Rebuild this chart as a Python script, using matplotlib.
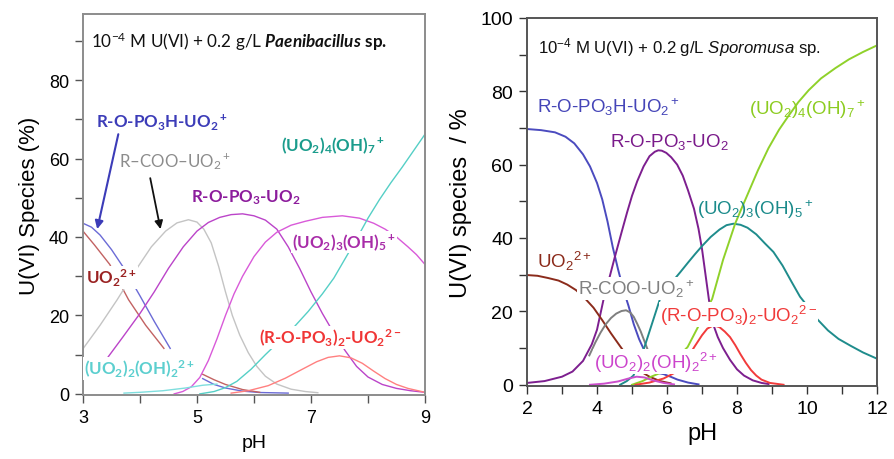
import numpy as np
import matplotlib
matplotlib.use("Agg")
import matplotlib.pyplot as plt

plt.rcParams['mathtext.fontset'] = 'custom'
plt.rcParams['mathtext.rm'] = 'Liberation Sans'
plt.rcParams['mathtext.it'] = 'Liberation Sans:italic'
plt.rcParams['mathtext.bf'] = 'Lato:bold'
plt.rcParams['mathtext.bfit'] = 'Lato:bold:italic'
plt.rcParams['font.family'] = ['Liberation Sans', 'DejaVu Sans']

nan = np.nan

# ---------------- Left panel (Paenibacillus) ----------------
L_blue_ph = [3.0, 3.15, 3.3, 3.5, 3.73, 4.0, 4.25, 4.53, nan, 5.1, 5.3, 5.5, 5.8, 6.1, 6.6]
L_blue_v = [43.5, 42.5, 40.5, 36.8, 31.8, 25.0, 18.5, 11.6, nan, 3.9, 2.4, 1.5, 0.7, 0.35, 0.2]
L_brown_ph = [3.0, 3.2, 3.47, 3.8, 4.1, 4.42, nan, 5.1, 5.3, 5.5, 5.8, 6.1]
L_brown_v = [41.5, 38.0, 33.0, 24.0, 17.5, 11.6, nan, 5.0, 3.6, 2.4, 1.1, 0.4]
L_gray_ph = [3.0, 3.3, 3.6, 3.9, 4.2, 4.45, 4.65, 4.85, 5.0, 5.12, 5.25, 5.38, 5.5, 5.62, 5.75, 5.9, 6.05,
             6.2, 6.4, 6.65, 6.9, 7.12]
L_gray_v = [11.5, 17.5, 24.0, 31.0, 37.5, 41.5, 43.6, 44.4, 43.8, 42.0, 38.5, 32.5, 26.0, 20.0, 15.0, 10.5, 7.0,
            4.5, 2.5, 1.2, 0.6, 0.3]
L_pur_ph = [3.42, 3.7, 4.0, 4.25, 4.5, 4.76, 5.0, 5.2, 5.4, 5.6, 5.8, 6.0, 6.2, 6.4, 6.6, 6.8, 7.0, 7.2, 7.4,
            7.6, 7.8, 8.0, 8.25, 8.5, 8.75, 9.0]
L_pur_v = [9.0, 14.5, 20.5, 26.0, 32.0, 37.5, 41.5, 43.7, 45.0, 45.7, 45.9, 45.4, 44.3, 42.0, 37.5, 32.0, 26.0,
           20.5, 15.5, 11.0, 7.0, 4.3, 2.4, 1.4, 0.8, 0.4]
L_mag_ph = [4.6, 4.75, 4.9, 5.05, 5.2, 5.35, 5.5, 5.65, 5.8, 6.0, 6.2, 6.4, 6.65, 6.9, 7.2, 7.55, 7.85, 8.1,
            8.3, 8.5, 8.7, 8.85, 9.0]
L_mag_v = [0.0, 0.6, 1.8, 4.2, 8.5, 14.0, 20.0, 25.5, 30.0, 35.0, 38.7, 41.2, 43.0, 44.0, 45.0, 45.4, 44.8, 43.5,
           42.0, 40.0, 37.5, 35.5, 33.0]
L_teal_ph = [5.05, 5.3, 5.5, 5.7, 5.95, 6.2, 6.45, 6.7, 6.95, 7.2, 7.4, 7.6, 7.8, 8.0, 8.2, 8.4, 8.6, 8.8, 9.0]
L_teal_v = [0.0, 0.6, 1.6, 3.2, 6.3, 10.0, 13.5, 17.0, 21.0, 25.5, 29.5, 34.5, 39.5, 44.8, 49.5, 53.8, 57.8,
            62.0, 66.2]
L_cyan_ph = [3.72, 4.0, 4.4, 4.8, 5.1, 5.35]
L_cyan_v = [0.2, 0.4, 0.8, 1.5, 2.2, 2.5]
L_red_ph = [5.6, 5.9, 6.25, 6.55, 6.85, 7.1, 7.3, 7.5, 7.7, 7.9, 8.1, 8.3, 8.5, 8.7, 9.0]
L_red_v = [0.2, 0.8, 2.1, 4.0, 6.3, 8.2, 9.3, 9.7, 9.2, 7.8, 5.8, 3.9, 2.4, 1.4, 0.4]

# ---------------- Right panel (Sporomusa) ----------------
R_blue_ph = [2.0, 2.4, 2.8, 3.1, 3.35, 3.6, 3.8, 4.0, 4.15, 4.3, 4.45, 4.6, 4.75, 4.9, 5.05, 5.2, 5.33, 5.45,
             5.6, 5.75, 5.9, 6.1, 6.3, 6.6, 6.9]
R_blue_v = [69.7, 69.4, 68.8, 67.6, 65.8, 62.8, 59.5, 55.0, 50.5, 44.5, 37.5, 31.5, 26.0, 21.5, 16.5, 12.5, 9.8,
            6.5, 4.0, 3.2, 2.9, 2.2, 1.4, 0.6, 0.1]
R_pur_ph = [2.0, 2.5, 3.0, 3.3, 3.6, 3.85, 4.0, 4.19, 4.35, 4.5, 4.7, 4.86, 5.0, 5.15, 5.33, 5.5, 5.65, 5.75,
            5.85, 5.98, 6.12, 6.29, 6.45, 6.6, 6.77, 6.9, 7.0, 7.1, 7.2, 7.33, 7.45, 7.6, 7.8, 8.0, 8.2, 8.45,
            8.7, 8.9]
R_pur_v = [0.5, 1.0, 2.2, 3.6, 6.5, 11.0, 15.0, 23.4, 29.0, 34.5, 41.5, 47.0, 51.5, 55.5, 59.5, 62.3, 63.5, 63.9,
           63.8, 63.2, 62.0, 60.0, 57.0, 53.0, 48.0, 42.5, 37.0, 30.0, 23.0, 16.2, 13.0, 10.0, 6.8, 4.2, 2.5,
           1.2, 0.5, 0.2]
R_brown_ph = [2.0, 2.3, 2.6, 2.9, 3.15, 3.4, 3.65, 3.9, 4.15, 4.4, 4.66, 4.85, 5.05, 5.25, 5.5, 5.8, 6.1]
R_brown_v = [29.9, 29.7, 29.1, 28.4, 27.3, 25.8, 23.6, 21.0, 17.6, 14.0, 10.5, 8.0, 5.5, 3.6, 2.2, 1.0, 0.4]
R_gray_ph = [3.78, 3.95, 4.1, 4.25, 4.4, 4.55, 4.7, 4.83, 4.95, 5.05, 5.15, 5.25, 5.35, 5.45, 5.55]
R_gray_v = [8.0, 11.5, 14.2, 16.5, 18.2, 19.4, 20.1, 20.3, 19.7, 18.5, 16.6, 14.5, 12.0, 9.5, 7.5]
R_teal_ph = [4.66, 4.85, 5.04, 5.2, 5.37, 5.6, 5.8, 6.1, 6.38, 6.6, 6.8, 7.0, 7.25, 7.5, 7.7, 7.9, 8.1, 8.3,
             8.55, 8.8, 9.04, 9.3, 9.55, 9.8, 10.05, 10.3, 10.6, 10.9, 11.25, 11.6, 12.0]
R_teal_v = [0.0, 1.0, 2.5, 6.0, 10.7, 17.5, 23.4, 27.5, 30.7, 33.3, 35.6, 37.8, 40.3, 42.3, 43.5, 43.9, 43.6,
            42.8, 41.0, 38.5, 36.2, 32.5, 28.2, 24.0, 21.0, 17.8, 14.8, 12.5, 10.6, 8.8, 7.1]
R_green_ph = [5.0, 5.3, 5.55, 5.8, 6.2, 6.59, 6.91, 7.1, 7.29, 7.6, 7.95, 8.15, 8.33, 8.6, 8.9, 9.2, 9.48, 9.75,
              10.05, 10.4, 10.81, 11.2, 11.6, 12.0]
R_green_v = [0.0, 1.0, 2.2, 3.2, 6.5, 10.3, 16.2, 20.0, 23.4, 34.0, 44.0, 48.5, 52.5, 58.5, 64.5, 69.5, 73.4,
             77.0, 80.3, 83.5, 86.3, 88.7, 90.7, 92.5]
R_red_ph = [5.1, 5.5, 5.9, 6.27, 6.5, 6.78, 7.0, 7.15, 7.33, 7.5, 7.65, 7.8, 7.95, 8.1, 8.25, 8.4, 8.55, 8.7,
            8.94, 9.33]
R_red_v = [0.0, 0.6, 1.7, 3.5, 6.0, 10.3, 13.5, 15.3, 16.2, 15.7, 14.5, 13.0, 10.8, 8.3, 6.0, 4.0, 2.5, 1.4,
           0.5, 0.0]
R_mag_ph = [3.8, 4.2, 4.6, 4.9, 5.13, 5.35, 5.6, 5.9, 6.2]
R_mag_v = [0.0, 0.3, 0.9, 1.7, 2.2, 2.0, 1.2, 0.5, 0.1]

L_xticks = [3, 4, 5, 6, 7, 8, 9]
L_xticklabels = ['3', '', '5', '', '7', '', '9']
L_yticks = [0, 10, 20, 30, 40, 50, 60, 70, 80, 90]
L_yticklabels = ['0', '', '20', '', '40', '', '60', '', '80', '']
R_xticks = list(range(2, 13))
R_xticklabels = ['2', '', '4', '', '6', '', '8', '', '10', '', '12']
R_yticks = list(range(0, 101, 10))
R_yticklabels = ['0', '', '20', '', '40', '', '60', '', '80', '', '100']

fig = plt.figure(figsize=(8.94, 4.6), dpi=100)
axL = fig.add_axes([0.0928, 0.139, 0.3826, 0.828])
axR = fig.add_axes([0.5895, 0.159, 0.3915, 0.800])

# ---- left ----
lwL = 1.0
axL.plot(L_blue_ph, L_blue_v, color='#6b6bd6', lw=lwL)
axL.plot(L_brown_ph, L_brown_v, color='#c26262', lw=lwL)
axL.plot(L_gray_ph, L_gray_v, color='#c4c4c4', lw=lwL)
axL.plot(L_pur_ph, L_pur_v, color='#bb44c9', lw=lwL)
axL.plot(L_mag_ph, L_mag_v, color='#d95ad9', lw=lwL)
axL.plot(L_teal_ph, L_teal_v, color='#55cfc6', lw=lwL)
axL.plot(L_cyan_ph, L_cyan_v, color='#7fdede', lw=lwL)
axL.plot(L_red_ph, L_red_v, color='#ff8080', lw=lwL)

axL.set_xlim(3, 9)
axL.set_ylim(-0.3, 96.8)
axL.set_xticks(L_xticks)
axL.set_xticklabels(L_xticklabels)
axL.set_yticks(L_yticks)
axL.set_yticklabels(L_yticklabels)
axL.tick_params(direction='out', length=6, width=1.0, color='#555555', labelsize=13, pad=4)
for s in axL.spines.values():
    s.set_color('#8c8c8c')
    s.set_linewidth(1.4)
axL.set_xlabel('pH', fontsize=14, labelpad=6)
axL.set_ylabel('U(VI) Species (%)', fontsize=16, labelpad=6)

wb = dict(facecolor='white', edgecolor='none', pad=0.6)
fL = dict(family='Lato', weight='bold', fontsize=12.2, ha='left', va='center')
axL.text(3.14, 90, r"10$\mathregular{^{-4}}$ M U(VI) + 0.2 g/L $\mathbfit{Paenibacillus}$ $\mathbf{sp.}$",
         family='Lato', fontsize=12.3, ha='left', va='center', color='#111111')
axL.text(3.23, 69.6, r"R-O-PO$\mathregular{_3}$H-UO$\mathregular{_2{}^+}$", color='#3c3cb8', **fL)
axL.text(3.64, 59.4, r"R–COO–UO$\mathregular{_2{}^+}$", color='#8c8c8c',
         family='Lato', fontsize=12.2, ha='left', va='center')
axL.text(4.89, 50.2, r"R-O-PO$\mathregular{_3}$-UO$\mathregular{_2}$", color='#8c1c9c', **fL)
axL.text(6.48, 63.4, r"(UO$\mathregular{_2}$)$\mathregular{_4}$(OH)$\mathregular{_7{}^+}$", color='#1a9c8c', **fL)
axL.text(6.67, 38.7, r"(UO$\mathregular{_2}$)$\mathregular{_3}$(OH)$\mathregular{_5{}^+}$", color='#a82ca8',
         bbox=wb, zorder=5, **fL)
axL.text(3.05, 29.6, r"UO$\mathregular{_2{}^{2+}}$", color='#9a2222', bbox=wb, zorder=5, **fL)
axL.text(6.09, 14.3, r"(R-O-PO$\mathregular{_3}$)$\mathregular{_2}$-UO$\mathregular{_2{}^{2-}}$", color='#f03535',
         bbox=wb, zorder=5, **fL)
axL.text(3.02, 6.4, r"(UO$\mathregular{_2}$)$\mathregular{_2}$(OH)$\mathregular{_2{}^{2+}}$", color='#5ccfcf',
         bbox=wb, zorder=5, **fL)
axL.annotate('', xy=(3.25, 42.0), xytext=(3.62, 66.2),
             arrowprops=dict(arrowstyle='-|>', color='#3c3cb8', lw=1.5, mutation_scale=12, shrinkA=0, shrinkB=0))
axL.annotate('', xy=(4.36, 42.0), xytext=(4.18, 55.0),
             arrowprops=dict(arrowstyle='-|>', color='#111111', lw=1.3, mutation_scale=12, shrinkA=0, shrinkB=0))

# ---- right ----
lwR = 1.4
axR.plot(R_blue_ph, R_blue_v, color='#4b4bbf', lw=lwR)
axR.plot(R_pur_ph, R_pur_v, color='#7d1f8f', lw=lwR)
axR.plot(R_brown_ph, R_brown_v, color='#8b2b1b', lw=lwR)
axR.plot(R_gray_ph, R_gray_v, color='#7f7f7f', lw=lwR)
axR.plot(R_teal_ph, R_teal_v, color='#1f8c8c', lw=lwR)
axR.plot(R_green_ph, R_green_v, color='#8fd12a', lw=lwR)
axR.plot(R_red_ph, R_red_v, color='#f23b3b', lw=lwR)
axR.plot(R_mag_ph, R_mag_v, color='#cc4fcc', lw=lwR)

axR.set_xlim(2, 12)
axR.set_ylim(-0.3, 100)
axR.set_xticks(R_xticks)
axR.set_xticklabels(R_xticklabels)
axR.set_yticks(R_yticks)
axR.set_yticklabels(R_yticklabels)
axR.tick_params(direction='out', length=6, width=1.0, color='#333333', labelsize=14, pad=4)
for s in axR.spines.values():
    s.set_color('#555555')
    s.set_linewidth(1.4)
axR.set_xlabel('pH', fontsize=17, labelpad=4)
axR.set_ylabel('U(VI) species  / %', fontsize=17, labelpad=6)

fR = dict(family='Liberation Sans', fontsize=13.5, ha='left', va='center')
axR.text(2.3, 92.3, r"10$\mathregular{^{-4}}$ M U(VI) + 0.2 g/L $\mathit{Sporomusa}$ sp.",
         family='Liberation Sans', fontsize=12.1, ha='left', va='center', color='#111111')
axR.text(2.29, 76.0, r"R-O-PO$\mathregular{_3}$H-UO$\mathregular{_2{}^+}$", color='#4545b8', **fR)
axR.text(4.37, 66.5, r"R-O-PO$\mathregular{_3}$-UO$\mathregular{_2}$", color='#7a1a8a', **fR)
axR.text(8.34, 75.2, r"(UO$\mathregular{_2}$)$\mathregular{_4}$(OH)$\mathregular{_7{}^+}$", color='#8ccc20', **fR)
axR.text(6.86, 48.0, r"(UO$\mathregular{_2}$)$\mathregular{_3}$(OH)$\mathregular{_5{}^+}$", color='#1a8a8a', **fR)
axR.text(2.29, 33.8, r"UO$\mathregular{_2{}^{2+}}$", color='#8b2a1a', **fR)
axR.text(3.46, 26.2, r"R-COO-UO$\mathregular{_2{}^+}$", color='#808080', bbox=wb, zorder=5, **fR)
axR.text(5.8, 19.1, r"(R-O-PO$\mathregular{_3}$)$\mathregular{_2}$-UO$\mathregular{_2{}^{2-}}$", color='#f03a3a',
         bbox=wb, zorder=5, **fR)
axR.text(3.91, 6.3, r"(UO$\mathregular{_2}$)$\mathregular{_2}$(OH)$\mathregular{_2{}^{2+}}$", color='#cc44cc',
         bbox=wb, zorder=5, **fR)

fig.savefig('out.png', dpi=100)
